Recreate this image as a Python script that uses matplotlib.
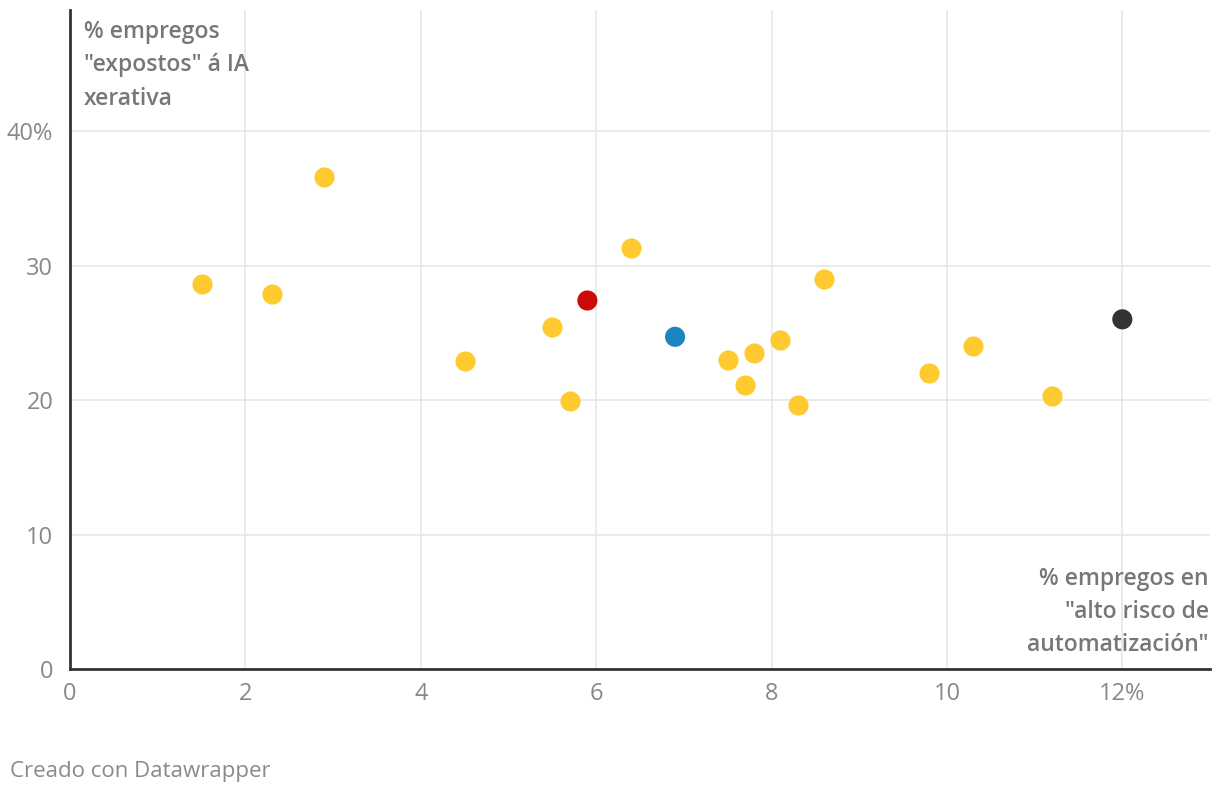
import matplotlib.pyplot as plt

plt.rcParams['font.family'] = ['Open Sans', 'DejaVu Sans']

# % jobs at high risk of automation (x) and % exposed to generative AI (y)
risk = [1.5, 2.3, 2.9, 4.5, 5.5, 5.7, 6.4, 7.5, 7.7, 7.8, 8.1, 8.3, 8.6, 9.8, 10.3, 11.2]
exposed = [28.6, 27.9, 36.6, 22.9, 25.4, 19.9, 31.3, 23.0, 21.1, 23.5, 24.5, 19.6, 29.0, 22.0, 24.0, 20.3]

# highlighted points
hl_risk = [5.9, 6.9, 12.0]
hl_exposed = [27.4, 24.7, 26.0]
hl_colors = ['#cc0a0a', '#1a85c0', '#333333']

xticks = [0, 2, 4, 6, 8, 10, 12]
xlabels = ['0', '2', '4', '6', '8', '10', '12%']
yticks = [0, 10, 20, 30, 40]
ylabels = ['0', '10', '20', '30', '40%']

fig = plt.figure(figsize=(12.2, 7.96), dpi=100)
ax = fig.add_axes([70 / 1220, 127 / 796, 1140 / 1220, 659 / 796])

ax.scatter(risk, exposed, s=210, color='#ffca2f', zorder=3, linewidths=0)
ax.scatter(hl_risk, hl_exposed, s=210, color=hl_colors, zorder=4, linewidths=0)

ax.set_xlim(0, 13)
ax.set_ylim(0, 49)
ax.set_xticks(xticks)
ax.set_xticklabels(xlabels)
ax.set_yticks(yticks)
ax.set_yticklabels(ylabels)
ax.tick_params(length=0, labelsize=17, colors='#888888', pad=9)
ax.tick_params(axis='y', pad=12)

ax.grid(True, color='#e6e6e6', linewidth=1.2, zorder=0)
for side in ['top', 'right']:
    ax.spines[side].set_visible(False)
for side in ['left', 'bottom']:
    ax.spines[side].set_color('#333333')
    ax.spines[side].set_linewidth(2)

ax.text(0.012, 0.985, '% empregos\n"expostos" á IA\nxerativa', transform=ax.transAxes,
        ha='left', va='top', fontsize=16.5, color='#777777', fontweight='semibold',
        linespacing=1.52)
ax.text(0.999, 0.155, '% empregos en\n"alto risco de\nautomatización"', transform=ax.transAxes,
        ha='right', va='top', fontsize=16.5, color='#777777', fontweight='semibold',
        linespacing=1.5)

fig.text(10 / 1220, 1 - 772 / 796, 'Creado con Datawrapper', ha='left', va='center',
         fontsize=16, color='#8a8a8a')

fig.savefig('out.png', dpi=100)
